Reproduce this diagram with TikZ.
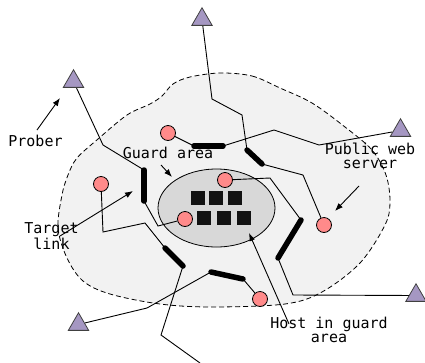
\documentclass[tikz,border=0pt]{standalone}
\usepackage{fontspec}
\setmonofont{DejaVu Sans Mono}
\usetikzlibrary{shapes.geometric,arrows.meta}
\definecolor{hostpink}{RGB}{255,138,138}
\definecolor{probeviolet}{RGB}{165,151,194}
\definecolor{areagray}{RGB}{242,242,242}
\definecolor{guardgray}{RGB}{216,216,216}
\pgfdeclarelayer{regions}
\pgfdeclarelayer{routes}
\pgfsetlayers{regions,routes,main}
\tikzset{
  prober/.style={regular polygon, regular polygon sides=3, minimum size=23.5pt,
    inner sep=0pt, fill=probeviolet, draw=black!75, line width=0.8pt},
  host/.style={circle, minimum size=15pt, inner sep=0pt, fill=hostpink,
    draw=black, line width=0.8pt},
  server/.style={rectangle, minimum size=14pt, inner sep=0pt, fill=black!93},
  wire/.style={line width=0.9pt},
  linkbar/.style={line width=5.5pt, line cap=round},
  label/.style={font=\ttfamily\fontsize{15}{14}\selectfont, align=center, inner sep=0pt},
  pointer/.style={line width=0.9pt, -{Latex[length=8pt,width=6pt]}}
}
\begin{document}
\begin{tikzpicture}[x=1pt, y=-1pt]
\useasboundingbox (0,0) rectangle (425,362);

% probers
\node[prober] (t1) at (202,19.5) {};
\node[prober] (t2) at (73.5,81.5) {};
\node[prober] (t3) at (400.5,130.5) {};
\node[prober] (t4) at (78.5,324.5) {};
\node[prober] (t5) at (416,295.5) {};

% hosts
\node[host] (c1) at (168,133) {};
\node[host] (c2) at (101,184) {};
\node[host] (c3) at (225,180) {};
\node[host] (c4) at (185,219) {};
\node[host] (c5) at (324,225) {};
\node[host] (c6) at (260,299) {};

% hosts inside the guard area
\node[server] (s1) at (198,198) {};
\node[server] (s2) at (216,198) {};
\node[server] (s3) at (235,198) {};
\node[server] (s4) at (204,217.5) {};
\node[server] (s5) at (224,217.5) {};
\node[server] (s6) at (244,217.5) {};

\begin{pgfonlayer}{regions}
% monitored region
\draw[fill=areagray, line width=0.8pt, dash pattern=on 5pt off 3pt]
  plot[smooth cycle, tension=0.55] coordinates {
    (220,73) (252,76) (280,88) (312,103) (345,127) (372,150) (386,175)
    (390,202) (385,225) (360,263) (322,292) (285,304) (212,307) (160,304)
    (110,294) (83,281) (67,258) (58,228) (62,195) (68,175) (77,158)
    (98,139) (127,115) (150,104) (162,96) (173,84) (190,77)};
% guard area
\node[ellipse, minimum width=117pt, minimum height=78pt, inner sep=0pt,
  fill=guardgray, draw=black, line width=0.8pt] (guard) at (216.5,208) {};
\end{pgfonlayer}

% link end points
\coordinate (l1a) at (194,146);  \coordinate (l1b) at (223,146);
\coordinate (l2a) at (247,150);  \coordinate (l2b) at (262,164);
\coordinate (l3a) at (144,170);  \coordinate (l3b) at (144,201);
\coordinate (l4a) at (165,248);  \coordinate (l4b) at (183,266);
\coordinate (l5a) at (211,272);  \coordinate (l5b) at (243,279);
\coordinate (l6a) at (301,220);  \coordinate (l6b) at (278,258);
\coordinate (exit) at (200,363);

\begin{pgfonlayer}{routes}
% routes
\draw[wire] (t1) -- (212,99) -- (242,115) -- (l2a);
\draw[wire] (l2b) -- (303,175) -- (c5);
\draw[wire] (t3) -- (319,145) -- (274,130) -- (l1b);
\draw[wire] (l1a) -- (c1);
\draw[wire] (t2) -- (103,145) -- (l3a);
\draw[wire] (l3b) -- (158,226) -- (c4);
\draw[wire] (c2) -- (103,232) -- (145,223) -- (l4a);
\draw[wire] (l4b) -- (161,335) -- (exit);
\draw[wire] (t4) -- (147,308) -- (l5a);
\draw[wire] (l5b) -- (c6);
\draw[wire] (t5) -- (293,295) -- (l6b);
\draw[wire] (l6a) -- (270,178) -- (c3);
% links
\draw[linkbar] (l1a) -- (l1b);
\draw[linkbar] (l2a) -- (l2b);
\draw[linkbar] (l3a) -- (l3b);
\draw[linkbar] (l4a) -- (l4b);
\draw[linkbar] (l5a) -- (l5b);
\draw[linkbar] (l6a) -- (l6b);
\end{pgfonlayer}

% labels
\node[label, anchor=base] (lprober) at (35.5,146) {Prober};
\node[label, anchor=base] (lguard) at (168,158) {Guard area};
\node[label, anchor=base] (lweb) at (370,168) {Public web\\server};
\node[label, anchor=base] (ltarget) at (51.5,249) {Target\\link};
\node[label, anchor=base] (lhost) at (329,342.5) {Host in guard\\area};

\coordinate (aprober) at (37,130);   \coordinate (pprober) at (60,98);
\coordinate (aguard) at (161,165);   \coordinate (pguard) at (172,177);
\coordinate (aweb) at (359,186);     \coordinate (pweb) at (335,211);
\coordinate (atarget) at (60,236);   \coordinate (ptarget) at (133,191);
\coordinate (ahost) at (289,324);    \coordinate (phost) at (249,233);
\draw[pointer] (aprober) -- (pprober);
\draw[pointer] (aguard) -- (pguard);
\draw[pointer] (aweb) -- (pweb);
\draw[pointer] (atarget) -- (ptarget);
\draw[pointer] (ahost) -- (phost);
\end{tikzpicture}
\end{document}
